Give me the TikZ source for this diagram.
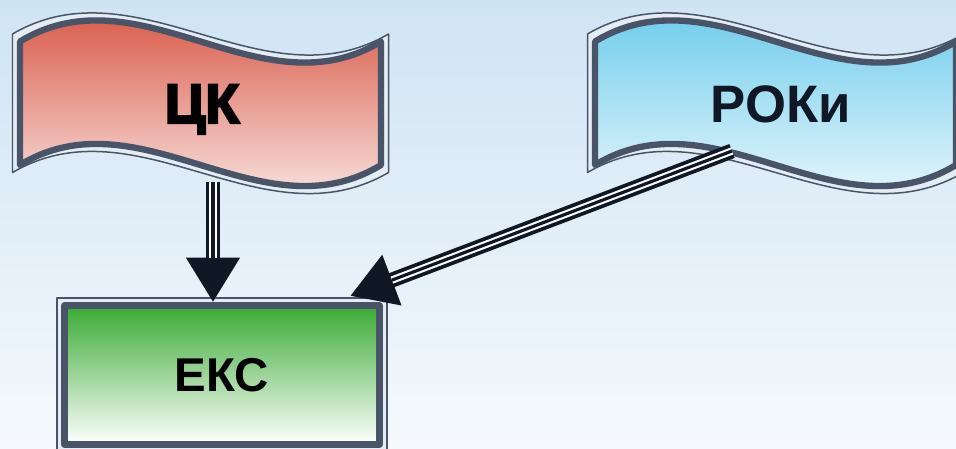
\documentclass[tikz,border=0pt]{standalone}
\usepackage{fontspec}
\setmainfont{Liberation Sans}
\newfontfamily\heavyfont{Liberation Sans Bold}[FakeBold=4]
\usetikzlibrary{arrows.meta}

\definecolor{skytop}{HTML}{CFE4F3}
\definecolor{skybot}{HTML}{F5F9FD}
\definecolor{framecol}{HTML}{4A5468}
\definecolor{gapcol}{HTML}{E4ECF4}
\definecolor{redtop}{HTML}{D23C28}
\definecolor{bluetop}{HTML}{55C3E8}
\definecolor{greentop}{HTML}{3AAA34}
\definecolor{inkcol}{HTML}{0F1824}

\newcommand\wavepath[5]{(#1,#2) .. controls ({#1+#3/3},{#2-#5}) and ({#1+2*#3/3},{#2+#5}) .. ({#1+#3},#2) -- ({#1+#3},{#2+#4}) .. controls ({#1+2*#3/3},{#2+#4+#5}) and ({#1+#3/3},{#2+#4-#5}) .. (#1,{#2+#4}) -- cycle}

\begin{document}
\begin{tikzpicture}[x=0.02cm, y=-0.02cm,
    outerline/.style={draw=framecol, line width=0.85pt, fill=gapcol, line join=round},
    innerline/.style={draw=framecol, line width=3.6pt, line join=round},
    triplearrow/.style={draw=inkcol, line width=8.5pt, -{Triangle[length=25.5pt,width=29pt]},
        postaction={draw=white, line width=4.2pt, -, shorten >=25.5pt},
        postaction={draw=inkcol, line width=1.8pt, -, shorten >=25.5pt}},
    tagtext/.style={anchor=base, font=\bfseries\fontsize{30}{36}\selectfont}]

    \useasboundingbox (0,0) rectangle (956,449);
    \shade[top color=skytop, bottom color=skybot] (0,0) rectangle (956,449);

    \filldraw[outerline] \wavepath{12.5}{34}{376}{138.5}{73};
    \draw[innerline, top color=redtop, middle color=redtop!40!white, bottom color=white] \wavepath{20}{41.5}{361}{123.5}{73};
    \node[tagtext, font=\heavyfont\fontsize{31.7}{38}\selectfont] (ck) at (202,123) {ЦК};

    \filldraw[outerline] \wavepath{587.5}{34}{376}{138.5}{73};
    \draw[innerline, top color=bluetop, middle color=bluetop!45!white, bottom color=white] \wavepath{595}{41.5}{361}{123.5}{73};
    \node[tagtext, text=inkcol] (rok) at (781,123) {РОКи};

    \filldraw[outerline] (57,298) rectangle (387,451);
    \node[innerline, top color=greentop, middle color=greentop!45!white, bottom color=white,
        minimum width=6.3cm, minimum height=2.78cm,
        inner sep=0pt, font=\bfseries\fontsize{27}{32}\selectfont] (eks) at (222,375) {ЕКС};

    \coordinate (ck-out) at (213,182);
    \coordinate (rok-out) at (732,151);
    \coordinate (eks-in) at (350,296);
    \draw[triplearrow] (ck-out) -- (ck-out |- eks.north);
    \draw[triplearrow] (rok-out) -- (eks-in);
\end{tikzpicture}
\end{document}
